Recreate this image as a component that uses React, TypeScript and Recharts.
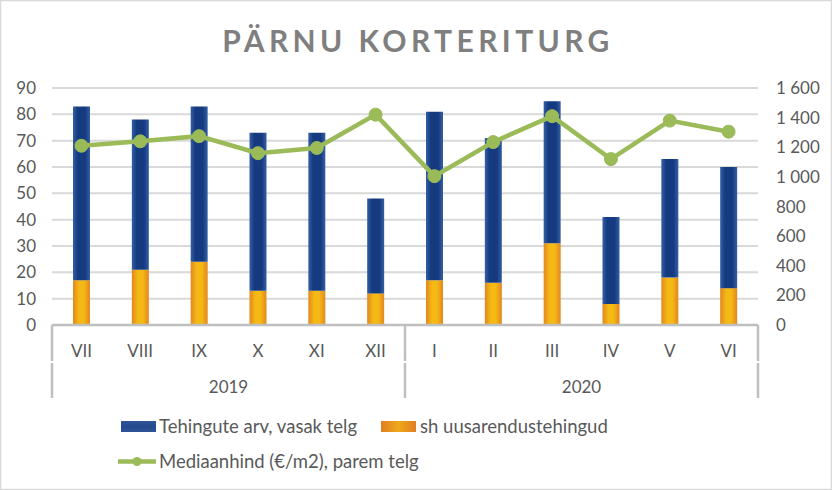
import React from "react";
import {
  ComposedChart,
  Bar,
  Line,
  XAxis,
  YAxis,
  CartesianGrid,
} from "recharts";

const months = ["VII", "VIII", "IX", "X", "XI", "XII", "I", "II", "III", "IV", "V", "VI"];
const years = ["2019", "2019", "2019", "2019", "2019", "2019", "2020", "2020", "2020", "2020", "2020", "2020"];
const totalDeals = [83, 78, 83, 73, 73, 48, 81, 71, 85, 41, 63, 60];
const newDeals = [17, 21, 24, 13, 13, 12, 17, 16, 31, 8, 18, 14];
const medianPrice = [1210, 1240, 1275, 1160, 1195, 1420, 1005, 1235, 1410, 1120, 1380, 1305];
const leftTicks = [0, 10, 20, 30, 40, 50, 60, 70, 80, 90];
const rightTicks = [0, 200, 400, 600, 800, 1000, 1200, 1400, 1600];

const seriesNames = {
  total: "Tehingute arv, vasak telg",
  newer: "sh uusarendustehingud",
  price: "Mediaanhind (€/m2), parem telg",
};
const title = "PÄRNU KORTERITURG";

const data = months.map((m, i) => ({
  month: m,
  year: years[i],
  newDeals: newDeals[i],
  otherDeals: totalDeals[i] - newDeals[i],
  price: medianPrice[i],
}));

const FONT = "Lato, 'Open Sans', sans-serif";
const TEXT = "#595959";
const AXIS = "#bfbfbf";

const fmtRight = (v: number) =>
  v >= 1000 ? `${Math.floor(v / 1000)} ${String(v % 1000).padStart(3, "0")}` : String(v);

const Sep = ({ x, y }: { x: number; y: number }) => (
  <g>
    <line x1={x} x2={x} y1={y} y2={y + 36} stroke={AXIS} strokeWidth={2.5} />
    <line x1={x} x2={x} y1={y + 38} y2={y + 73} stroke={AXIS} strokeWidth={2.5} />
  </g>
);

const MonthTick = (props: any) => {
  const { x, y, payload, index } = props;
  const half = payload && payload.offset ? payload.offset : 29.4;
  return (
    <g>
      <text x={x} y={y + 32} textAnchor="middle" fill={TEXT} fontSize={17} fontFamily={FONT}>
        {payload.value}
      </text>
      {index === 0 && <Sep x={x - half} y={y} />}
      {(index === 5 || index === 11) && <Sep x={x + half} y={y} />}
    </g>
  );
};

const YearTick = (props: any) => {
  const { x, y, payload } = props;
  return (
    <text x={x} y={y + 31} textAnchor="middle" fill={TEXT} fontSize={17} fontFamily={FONT}>
      {payload.value}
    </text>
  );
};

export default function App() {
  return (
    <div style={{ position: "absolute", left: 0, top: 0, width: 832, height: 490, background: "#fff" }}>
      <ComposedChart
        width={832}
        height={490}
        data={data}
        margin={{ top: 88, right: 0, bottom: 92, left: 0 }}
        barSize={17}
      >
        <defs>
          <linearGradient id="gBlue" x1="0" y1="0" x2="1" y2="0">
            <stop offset="0" stopColor="#3460a6" />
            <stop offset="0.28" stopColor="#163a80" />
            <stop offset="0.72" stopColor="#163a80" />
            <stop offset="1" stopColor="#3460a6" />
          </linearGradient>
          <linearGradient id="gOrange" x1="0" y1="0" x2="1" y2="0">
            <stop offset="0" stopColor="#e3861f" />
            <stop offset="0.35" stopColor="#f4b914" />
            <stop offset="0.65" stopColor="#f4b914" />
            <stop offset="1" stopColor="#e3861f" />
          </linearGradient>
        </defs>
        <CartesianGrid
          vertical={false}
          stroke="#d9d9d9"
          strokeWidth={2}
          xAxisId="m"
          yAxisId="left"
        />
        <XAxis
          xAxisId="m"
          dataKey="month"
          interval={0}
          tickLine={false}
          tickSize={0}
          tickMargin={0}
          axisLine={{ stroke: AXIS, strokeWidth: 2.5 }}
          height={37}
          tick={<MonthTick />}
        />
        <XAxis
          xAxisId="y"
          dataKey="year"
          allowDuplicatedCategory={false}
          interval={0}
          tickLine={false}
          tickSize={0}
          tickMargin={0}
          axisLine={false}
          height={36}
          tick={<YearTick />}
        />
        <YAxis
          yAxisId="left"
          domain={[0, 90]}
          ticks={leftTicks}
          interval={0}
          axisLine={false}
          tickLine={false}
          tickSize={0}
          tickMargin={16}
          width={52}
          tick={{ fill: TEXT, fontSize: 17, fontFamily: FONT }}
        />
        <YAxis
          yAxisId="right"
          orientation="right"
          domain={[0, 1600]}
          ticks={rightTicks}
          interval={0}
          axisLine={false}
          tickLine={false}
          tickSize={0}
          tickMargin={18}
          width={74}
          tickFormatter={fmtRight}
          tick={{ fill: TEXT, fontSize: 17, fontFamily: FONT, textAnchor: "start" }}
        />
        <Bar
          xAxisId="m"
          yAxisId="left"
          dataKey="newDeals"
          stackId="a"
          fill="url(#gOrange)"
          name={seriesNames.newer}
          isAnimationActive={false}
        />
        <Bar
          xAxisId="m"
          yAxisId="left"
          dataKey="otherDeals"
          stackId="a"
          fill="url(#gBlue)"
          name={seriesNames.total}
          isAnimationActive={false}
        />
        <Line
          xAxisId="m"
          yAxisId="right"
          dataKey="price"
          stroke="#9bbb59"
          strokeWidth={4.5}
          dot={{ r: 6.5, fill: "#9bbb59", stroke: "#9bbb59", strokeWidth: 1 }}
          activeDot={false}
          name={seriesNames.price}
          isAnimationActive={false}
        />
      </ComposedChart>
      <svg
        width={832}
        height={490}
        style={{ position: "absolute", left: 0, top: 0, pointerEvents: "none" }}
      >
        <defs>
          <linearGradient id="lBlue" x1="0" y1="0" x2="0" y2="1">
            <stop offset="0" stopColor="#2f5597" />
            <stop offset="0.5" stopColor="#24498f" />
            <stop offset="1" stopColor="#2f5597" />
          </linearGradient>
          <linearGradient id="lOrange" x1="0" y1="0" x2="1" y2="0">
            <stop offset="0" stopColor="#e07f22" />
            <stop offset="0.5" stopColor="#efa81b" />
            <stop offset="1" stopColor="#e07f22" />
          </linearGradient>
        </defs>
        <text
          x={418}
          y={52}
          textAnchor="middle"
          fill="#7f7f7f"
          fontSize={30}
          fontWeight={700}
          fontFamily={FONT}
          letterSpacing={4.4}
        >
          {title}
        </text>
        <rect x={121} y={421} width={35} height={11} fill="url(#lBlue)" />
        <text x={159} y={432.5} fill={TEXT} fontSize={18.5} fontFamily={FONT}>
          {seriesNames.total}
        </text>
        <rect x={381} y={421} width={35} height={11} fill="url(#lOrange)" />
        <text x={420} y={432.5} fill={TEXT} fontSize={18.5} fontFamily={FONT}>
          {seriesNames.newer}
        </text>
        <line x1={118} x2={156} y1={461.5} y2={461.5} stroke="#9bbb59" strokeWidth={4.5} />
        <circle cx={137} cy={461.5} r={4.5} fill="#9bbb59" />
        <text x={159} y={468} fill={TEXT} fontSize={18.5} fontFamily={FONT}>
          {seriesNames.price}
        </text>
        <rect x={0.5} y={0.5} width={831} height={489} fill="none" stroke="#d9d9d9" strokeWidth={1.5} />
      </svg>
    </div>
  );
}
